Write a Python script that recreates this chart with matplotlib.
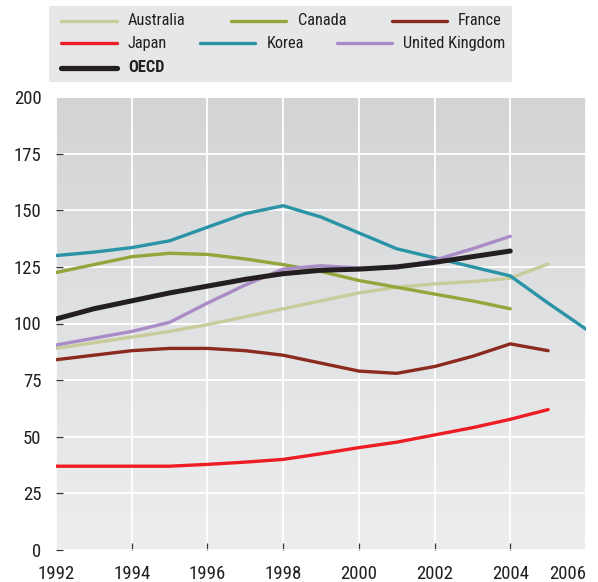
import matplotlib
matplotlib.use("Agg")
import matplotlib.pyplot as plt
from matplotlib.lines import Line2D
import numpy as np

FAMILY = ['Liberation Sans Narrow', 'Roboto Condensed', 'Archivo Narrow', 'PT Sans Narrow', 'DejaVu Sans']
plt.rcParams['font.family'] = FAMILY

years_to_2004 = [1992, 1993, 1994, 1995, 1996, 1997, 1998, 1999, 2000, 2001, 2002, 2003, 2004]
years_to_2005 = years_to_2004 + [2005]
years_to_2006 = years_to_2005 + [2006]

australia = [89, 91.5, 94, 96.5, 99.5, 103, 106.5, 110, 113.5, 116, 117.5, 118.5, 120, 126.3]
canada = [122.5, 126, 129.5, 131, 130.5, 128.5, 126, 123, 119, 116, 113, 110, 106.5]
france = [84, 86, 88, 89, 89, 88, 86, 82.5, 79, 78, 81, 85.5, 91, 88]
japan = [37, 37, 37, 37, 37.8, 38.8, 40, 42.5, 45.2, 47.6, 50.8, 54, 57.7, 62]
korea = [130, 131.5, 133.5, 136.5, 142.5, 148.5, 152, 147, 140, 133, 129, 125, 121, 109, 97.5]
uk = [90.5, 93.5, 96.5, 100.5, 109, 117, 124, 125.5, 124.5, 124.5, 128, 133, 138.5]
oecd = [102, 106.5, 110, 113.5, 116.5, 119.5, 122, 123.5, 124, 125, 127, 129.5, 132]

x_ticks = [1992, 1994, 1996, 1998, 2000, 2002, 2004, 2006]
y_ticks = [0, 25, 50, 75, 100, 125, 150, 175, 200]

series = [
    ("Australia", years_to_2005, australia, "#c8cc9a", 2.4),
    ("Canada", years_to_2004, canada, "#92a63a", 2.4),
    ("France", years_to_2005, france, "#8b2a1e", 2.4),
    ("Japan", years_to_2005, japan, "#ee1c25", 2.4),
    ("Korea", years_to_2006, korea, "#2a93a6", 2.4),
    ("United Kingdom", years_to_2004, uk, "#a98bc7", 2.4),
    ("OECD", years_to_2004, oecd, "#231f20", 3.6),
]

W, H = 598, 582
fig = plt.figure(figsize=(W / 100, H / 100), dpi=100)
ax = fig.add_axes([56 / W, (H - 550) / H, (586 - 56) / W, (550 - 97) / H])

# gradient background (darker at the top)
grad = np.linspace(0, 1, 256).reshape(-1, 1)
top = np.array([211, 212, 214]) / 255
bot = np.array([237, 238, 239]) / 255
img = top[None, None, :] * (1 - grad[:, :, None]) + bot[None, None, :] * grad[:, :, None]
ax.imshow(img, extent=[1992, 2006, 0, 200], origin='upper', aspect='auto', zorder=0)

ax.set_xlim(1992, 2006)
ax.set_ylim(0, 200)
for s in ax.spines.values():
    s.set_visible(False)
ax.set_xticks(x_ticks)
ax.set_yticks(y_ticks)
ax.grid(True, color='white', linewidth=1.3, zorder=1)
ax.tick_params(axis='both', direction='in', length=5, width=0.9, color='#333333',
               labelsize=13.5, labelcolor='#231f20', pad=10.5)
ax.set_xticklabels([str(t) for t in x_ticks])
ax.get_xticklabels()[-1].set_ha('right')
xt = ax.xaxis.get_major_ticks()
xt[0].tick1line.set_visible(False)
xt[-1].tick1line.set_visible(False)
ax.yaxis.get_major_ticks()[-1].tick1line.set_visible(False)

for name, xs, ys, col, lw in series:
    ax.plot(xs, ys, color=col, lw=lw, solid_capstyle='round', solid_joinstyle='round', zorder=3)

# legend box
fig.patches.append(plt.Rectangle((49 / W, 1 - 82 / H), (512 - 49) / W, (82 - 6) / H,
                                 transform=fig.transFigure, facecolor='#e6e7e8',
                                 edgecolor='none', zorder=0))
leg_pos = {
    "Australia": (61, 117, 128, 20.7),
    "Canada": (231, 286, 298, 20.7),
    "France": (392, 447, 458, 20.7),
    "Japan": (61, 117, 128, 43.3),
    "Korea": (200, 255, 267, 43.3),
    "United Kingdom": (337, 392, 403, 43.3),
    "OECD": (61, 117, 128, 67.7),
}
for name, xs, ys, col, lw in series:
    x0, x1, tx, yy = leg_pos[name]
    fig.add_artist(Line2D([x0 / W, x1 / W], [1 - yy / H, 1 - yy / H], color=col,
                          lw=lw if name != "OECD" else 3.8, solid_capstyle='round',
                          transform=fig.transFigure))
    fig.text(tx / W, 1 - yy / H, name, ha='left', va='center', fontsize=11.8,
             color='#231f20', fontweight='bold' if name == "OECD" else 'normal')

fig.savefig("out.png", dpi=100)
